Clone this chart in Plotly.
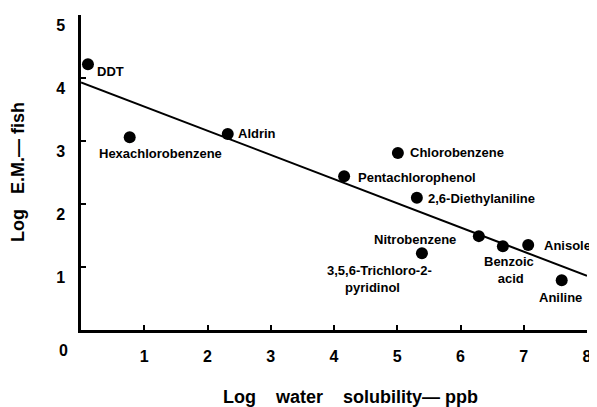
import plotly.graph_objects as go

# ---- data ----
compounds = ["DDT", "Hexachlorobenzene", "Aldrin", "Pentachlorophenol", "Chlorobenzene",
             "2,6-Diethylaniline", "3,5,6-Trichloro-2-pyridinol", "Nitrobenzene",
             "Benzoic acid", "Anisole", "Aniline"]
log_solubility = [0.11, 0.77, 2.32, 4.16, 5.01, 5.31, 5.39, 6.29, 6.67, 7.07, 7.60]
log_em_fish = [4.22, 3.06, 3.11, 2.44, 2.81, 2.10, 1.22, 1.49, 1.33, 1.35, 0.79]

fit_x = [0, 8]
fit_y = [3.93, 0.86]

x_ticks = [1, 2, 3, 4, 5, 6, 7, 8]
y_ticks = [1, 2, 3, 4, 5]

# label per point: (text, xanchor, align, dx px, dy px down)
label_specs = [
    ("DDT", "left", "left", 7, 7),
    ("Hexachlorobenzene", "left", "left", -33, 16),
    ("Aldrin", "left", "left", 8, -1),
    ("Pentachlorophenol", "left", "left", 12, 1),
    ("Chlorobenzene", "left", "left", 10, 0),
    ("2,6-Diethylaniline", "left", "left", 9, 1),
    ("3,5,6-Trichloro-2-<br>&nbsp;&nbsp;&nbsp;&nbsp;&nbsp;pyridinol", "left", "left", -97, 26),
    ("Nitrobenzene", "right", "left", -21, 3),
    ("Benzoic<br>&nbsp;acid", "center", "center", 6, 24),
    ("Anisole", "left", "left", 14, 1),
    ("Aniline", "left", "left", -25, 17),
]

FONT = "Liberation Sans, Arial, sans-serif"

fig = go.Figure()
fig.add_trace(go.Scatter(x=fit_x, y=fit_y, mode="lines",
                         line=dict(color="black", width=2), hoverinfo="skip"))
fig.add_trace(go.Scatter(x=log_solubility, y=log_em_fish, mode="markers",
                         marker=dict(color="black", size=12), cliponaxis=False,
                         text=compounds))

annotations = []
for xv, yv, (text, anchor, align, dx, dy) in zip(log_solubility, log_em_fish, label_specs):
    annotations.append(dict(x=xv, y=yv, xref="x", yref="y", text=text,
                            showarrow=False, xanchor=anchor, yanchor="middle", align=align,
                            xshift=dx, yshift=-dy,
                            font=dict(family=FONT, size=13, color="black", weight="bold")))

# "0" tick label at origin (offset left as in original)
annotations.append(dict(x=0, y=0, xref="x", yref="y", text="0", showarrow=False,
                        xanchor="center", yanchor="middle", xshift=-18, yshift=-20,
                        font=dict(family=FONT, size=16, color="black", weight="bold")))

# page offset: browser body margin of 8px
OFF = 8
L, R, T, B = 81, 10, 15, 77      # desired plot area in window pixels
W, H = 597 - OFF, 407 - OFF
ml, mt = L - OFF, T - OFF
pw, ph = W - ml - R, H - mt - B

def px_to_paper(xp, yp):
    return (xp - L) / pw, (330 - yp) / ph

tx, ty = px_to_paper(350, 397)
annotations.append(dict(x=tx, y=ty, xref="paper", yref="paper",
                        text="Log&nbsp;&nbsp;&nbsp;&nbsp;water&nbsp;&nbsp;&nbsp;&nbsp;solubility\u2014 ppb",
                        showarrow=False, xanchor="center", yanchor="middle",
                        font=dict(family=FONT, size=18, color="black", weight="bold")))
tx, ty = px_to_paper(18, 172)
annotations.append(dict(x=tx, y=ty, xref="paper", yref="paper",
                        text="Log&nbsp;&nbsp;&nbsp;E.M.\u2014 fish",
                        showarrow=False, xanchor="center", yanchor="middle", textangle=-90,
                        font=dict(family=FONT, size=18, color="black", weight="bold")))

fig.update_layout(
    width=W, height=H,
    margin=dict(l=ml, r=R, t=mt, b=B, autoexpand=False),
    plot_bgcolor="white", paper_bgcolor="white",
    showlegend=False,
    annotations=annotations,
    font=dict(family=FONT, color="black"),
)
fig.update_xaxes(range=[0, 8], tickvals=x_ticks, ticks="inside", ticklen=5, tickwidth=2,
                 tickcolor="black", showline=True, linecolor="black", linewidth=2.5,
                 showgrid=False, zeroline=False, ticklabelstandoff=10, automargin=False,
                 ticklabeloverflow="allow",
                 tickfont=dict(family=FONT, size=16, color="black", weight="bold"))
fig.update_yaxes(range=[0, 5], tickvals=y_ticks, ticks="inside", ticklen=5, tickwidth=2,
                 tickcolor="black", showline=True, linecolor="black", linewidth=2.5,
                 showgrid=False, zeroline=False, ticklabelstandoff=10, ticklabelshift=10,
                 automargin=False, ticklabeloverflow="allow",
                 tickfont=dict(family=FONT, size=16, color="black", weight="bold"))

fig.write_html("out.html")
